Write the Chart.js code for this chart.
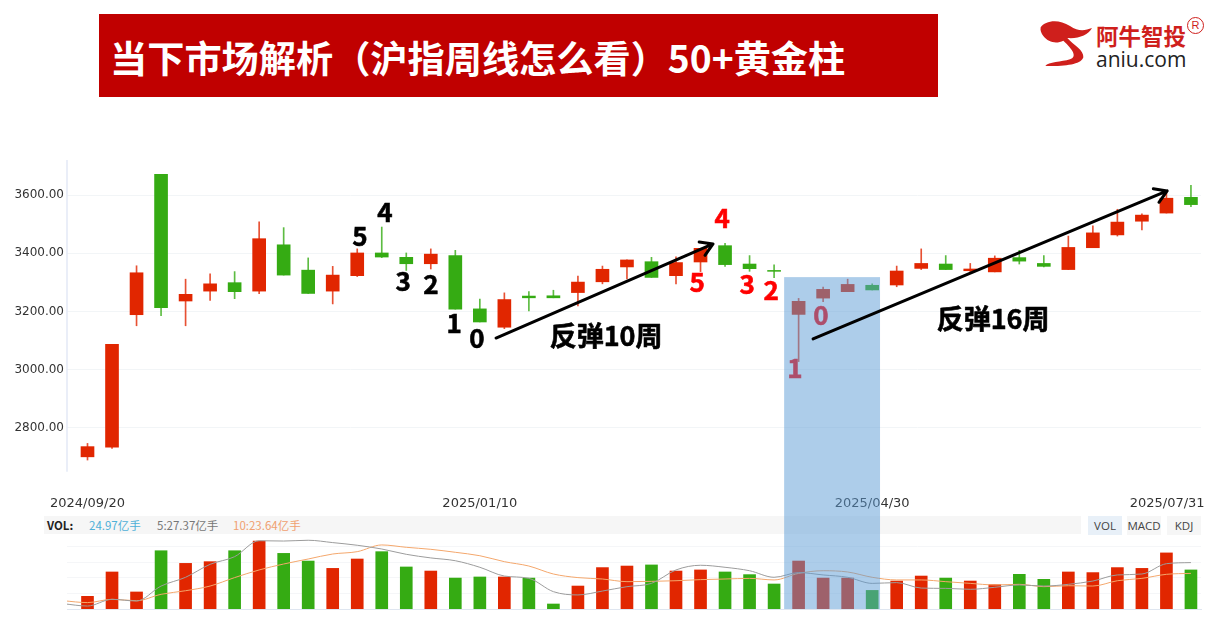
<!DOCTYPE html>
<html lang="zh">
<head>
<meta charset="utf-8">
<title>沪指周线</title>
<script src="https://cdn.jsdelivr.net/npm/chart.js@4"></script>
<style>
  html, body { margin: 0; padding: 0; background: #fff; overflow: hidden; }
  #page { position: relative; width: 1231px; height: 621px; font-family: "Noto Sans CJK SC", "Noto Sans", sans-serif; }
  #grafico { position: absolute; left: 0; top: 0; z-index: 2; }
  #titulo {
    position: absolute; left: 99px; top: 14px; width: 839px; height: 83px; background: #c00000;
    color: #fff; font-weight: 700; font-size: 37.2px; line-height: 86px; padding-left: 11px; box-sizing: border-box; white-space: nowrap;
  }
  #logo { position: absolute; left: 1020px; top: 0; }
  .logoCn { position: absolute; left: 1096px; top: 18px; font-size: 22.5px; line-height: 34px; color: #cf1f1c; font-weight: 700; white-space: nowrap; }
  .logoEn { position: absolute; left: 1096px; top: 45px; font-size: 21px; line-height: 28px; color: #222; white-space: nowrap; font-family: "Open Sans", sans-serif; }
  .logoR { position: absolute; left: 1187px; top: 17px; width: 15px; height: 15px; border: 1px solid #cf1f1c; border-radius: 50%; color: #cf1f1c; font-size: 11px; line-height: 15px; text-align: center; font-family: "Liberation Sans", sans-serif; }
  #faixa { position: absolute; left: 44px; top: 516px; width: 1037px; height: 18px; background: #f6f6f6; }
  .leg { position: absolute; top: 516px; font-size: 11.5px; line-height: 18px; white-space: nowrap; }
  .btn { position: absolute; top: 516px; width: 34px; height: 19px; background: #f6f6f6; font-size: 11.5px; line-height: 19px; text-align: center; color: #444; font-family: "Open Sans", sans-serif; }
</style>
</head>
<body>
<div id="page">
  <div id="titulo">当下市场解析（沪指周线怎么看）50+黄金柱</div>

  <svg id="logo" width="211" height="90" viewBox="0 0 633 270">
    <path fill="#cf1f1c" d="M62 82 C75 62 115 55 150 78 C175 95 195 92 216 84 C205 105 175 117 142 114 C160 135 192 150 190 172 C185 192 140 200 76 198 C85 186 125 186 150 178 C172 170 160 150 130 122 C110 132 85 128 70 108 C64 100 60 92 62 82 Z"/>
  </svg>
  <div class="logoCn">阿牛智投</div>
  <div class="logoEn">aniu.com</div>
  <div class="logoR">R</div>

  <div id="faixa"></div>
  <div class="leg" style="left:47px;color:#222;font-weight:700;">VOL:</div>
  <div class="leg" style="left:89px;color:#4fb0d8;">24.97亿手</div>
  <div class="leg" style="left:157px;color:#777;">5:27.37亿手</div>
  <div class="leg" style="left:233px;color:#f0a070;">10:23.64亿手</div>
  <div class="btn" style="left:1088px;background:#e8f0f8;">VOL</div>
  <div class="btn" style="left:1127px;">MACD</div>
  <div class="btn" style="left:1167px;">KDJ</div>

  <canvas id="grafico" width="1231" height="621"></canvas>
</div>

<script>
// Candles, one per week
const opens  = [2701,2734,3189,3671,3236,3270,3299,3270,3429,3342,3270,3323,3401,3386,3364,3392,3209,3146,3253,3254,3265,3302,3353,3371,3323,3370,3426,3363,3341,3190,3246,3268,3290,3291,3348,3363,3340,3336,3385,3365,3344,3419,3463,3510,3538,3592];
const closes = [2736,3087,3333,3213,3259,3295,3268,3450,3325,3262,3325,3401,3387,3364,3397,3208,3164,3241,3247,3247,3301,3345,3377,3317,3368,3417,3361,3347,3338,3235,3276,3293,3274,3339,3365,3344,3346,3383,3373,3355,3420,3470,3507,3531,3589,3567];
const highs  = [2747,3087,3357,3671,3311,3329,3337,3508,3488,3384,3355,3415,3490,3401,3415,3410,3243,3264,3268,3273,3322,3356,3377,3386,3388,3417,3434,3392,3360,3245,3284,3311,3295,3356,3415,3392,3365,3391,3410,3392,3459,3494,3551,3535,3610,3633];
const lows   = [2690,2730,3151,3186,3151,3238,3244,3261,3325,3262,3226,3320,3385,3341,3346,3208,3164,3141,3202,3247,3219,3295,3312,3317,3295,3337,3355,3338,3316,3028,3234,3268,3274,3285,3344,3344,3331,3336,3363,3353,3344,3419,3459,3480,3538,3560];

// Volume, 亿手
const volumes = [8.1,23.7,10.9,37.3,29.2,30.3,37.3,43.5,35.6,30.7,26.0,32.0,36.7,26.9,24.3,19.8,20.5,20.5,19.8,3.2,14.7,26.5,27.5,28.2,24.3,25.0,23.7,22.0,16.0,30.7,19.8,19.8,11.9,17.9,21.1,19.8,17.9,15.6,22.2,19.0,23.7,23.3,26.5,26.0,35.9,25.0];

// Moving averages start one week before the first candle
const ma5  = [3.4,1.9,6.2,5.1,14.7,20.3,28.6,33.5,43.7,43.5,44.0,42.5,40.8,38.4,35.0,32.7,30.9,26.7,21.1,19.6,11.1,9.0,11.5,14.3,16.4,25.0,28.0,26.7,24.5,20.3,23.3,21.8,20.3,16.4,16.9,13.4,13.2,12.6,13.9,15.4,14.7,15.8,17.9,21.8,22.4,29.0,29.7];
const ma10 = [5.3,4.1,6.2,5.3,9.4,11.7,14.7,20.1,25.0,28.8,32.0,35.2,36.7,41.0,39.5,38.2,36.3,34.1,30.3,27.5,22.4,20.1,19.2,17.5,17.7,18.1,18.8,19.2,19.6,18.6,22.8,24.5,23.7,20.3,18.6,18.6,17.5,16.4,15.4,15.8,14.3,14.9,14.7,18.1,19.6,22.2,22.8];

// Axis ticks
const priceTicks = [2800,3000,3200,3400,3600];
const volumeTicks = [10,20,30,40];
const dateTicks = [0,16,32,44.03];
const dateLabels = ["2024/09/20","2025/01/10","2025/04/30","2025/07/31"];

// Notes written on the chart, placed by week and price
const blackNotes = ["5","4","3","2","1","0"];
const blackWeeks = [11.11,12.13,12.87,14.01,14.95,15.88];
const blackPrices = [3459,3542,3305,3294,3160,3109];
const redNotes = ["5","4","3","2","1","0"];
const redWeeks = [24.86,25.88,26.9,27.88,28.85,29.91];
const redPrices = [3301,3521,3294,3274,3006,3188];
const reboundNotes = ["反弹10周","反弹16周"];
const reboundWeeks = [21.15,36.93];
const reboundPrices = [3116,3174];
const arrowWeeks = [[16.66,25.51],[29.59,44.03]];
const arrowPrices = [[3109,3432],[3106,3614]];
const highlightWeeks = [28.41,32.32];
const highlightTop = 3318;

const RED = "#e12600";
const GREEN = "#35ab13";
const candleColor = i => closes[i] >= opens[i] ? RED : GREEN;
const wickColor = i => closes[i] >= opens[i] ? "rgba(225,38,0,0.8)" : "rgba(53,171,19,0.8)";

const weeks = closes.map((_, i) => i);
const maWeeks = ma5.map((_, i) => i - 1);

function drawNote(ctx, text, x, y, color) {
  ctx.fillStyle = color;
  ctx.strokeStyle = color;
  ctx.lineWidth = 0.6;
  ctx.fillText(text, x, y);
  ctx.strokeText(text, x, y);
}

function drawArrow(ctx, x0, y0, x1, y1) {
  const ang = Math.atan2(y1 - y0, x1 - x0);
  const size = 14;
  ctx.strokeStyle = "#000";
  ctx.lineWidth = 3;
  ctx.lineCap = "round";
  ctx.lineJoin = "round";
  ctx.beginPath();
  ctx.moveTo(x0, y0);
  ctx.lineTo(x1, y1);
  ctx.moveTo(x1 - size * Math.cos(ang - 0.55), y1 - size * Math.sin(ang - 0.55));
  ctx.lineTo(x1, y1);
  ctx.lineTo(x1 - size * Math.cos(ang + 0.55), y1 - size * Math.sin(ang + 0.55));
  ctx.stroke();
}

const notasPlugin = {
  id: "notas",
  beforeDatasetsDraw(chart) {
    // price axis line only runs along the candle panel
    const { ctx, scales: { x, y } } = chart;
    ctx.save();
    ctx.strokeStyle = "#e3e9f6";
    ctx.lineWidth = 1.5;
    ctx.beginPath();
    ctx.moveTo(x.left, y.top);
    ctx.lineTo(x.left, y.getPixelForValue(2650));
    ctx.stroke();
    ctx.restore();
  },
  afterDatasetsDraw(chart) {
    const { ctx, chartArea, scales: { x, y } } = chart;
    ctx.save();
    ctx.textAlign = "center";
    ctx.textBaseline = "middle";
    ctx.font = '700 26px "Noto Sans CJK SC"';

    blackNotes.forEach((t, i) => drawNote(ctx, t, x.getPixelForValue(blackWeeks[i]), y.getPixelForValue(blackPrices[i]), "#000"));
    redNotes.forEach((t, i) => drawNote(ctx, t, x.getPixelForValue(redWeeks[i]), y.getPixelForValue(redPrices[i]), "#ff0000"));

    // Fica por cima dos candles e do volume
    const left = x.getPixelForValue(highlightWeeks[0]);
    const right = x.getPixelForValue(highlightWeeks[1]);
    const top = y.getPixelForValue(highlightTop);
    ctx.fillStyle = "rgba(91,155,213,0.5)";
    ctx.fillRect(left, top, right - left, chartArea.bottom - top);

    arrowWeeks.forEach((w, i) => {
      drawArrow(ctx, x.getPixelForValue(w[0]), y.getPixelForValue(arrowPrices[i][0]),
        x.getPixelForValue(w[1]), y.getPixelForValue(arrowPrices[i][1]));
    });

    ctx.font = '700 27px "Noto Sans CJK SC"';
    reboundNotes.forEach((t, i) => drawNote(ctx, t, x.getPixelForValue(reboundWeeks[i]), y.getPixelForValue(reboundPrices[i]), "#000"));
    ctx.restore();
  }
};

new Chart(document.getElementById("grafico").getContext("2d"), {
  type: "bar",
  data: {
    datasets: [
      {
        label: "ma5", type: "line", yAxisID: "yVol", order: 1,
        data: maWeeks.map((w, i) => ({ x: w, y: ma5[i] })),
        borderColor: "#9c9c9c", borderWidth: 1, pointRadius: 0, cubicInterpolationMode: "monotone"
      },
      {
        label: "ma10", type: "line", yAxisID: "yVol", order: 1,
        data: maWeeks.map((w, i) => ({ x: w, y: ma10[i] })),
        borderColor: "#f4a76c", borderWidth: 1, pointRadius: 0, cubicInterpolationMode: "monotone"
      },
      {
        label: "volume", yAxisID: "yVol", order: 2, grouped: false, barThickness: 12,
        data: weeks.map(i => ({ x: i, y: volumes[i] })),
        backgroundColor: ctx => candleColor(ctx.dataIndex)
      },
      {
        label: "corpo", yAxisID: "y", order: 3, grouped: false, barThickness: 13,
        data: weeks.map(i => ({ x: i, y: [opens[i], closes[i]] })),
        backgroundColor: ctx => candleColor(ctx.dataIndex)
      },
      {
        label: "pavio", yAxisID: "y", order: 4, grouped: false, barThickness: 1,
        data: weeks.map(i => ({ x: i, y: [lows[i], highs[i]] })),
        backgroundColor: ctx => wickColor(ctx.dataIndex)
      }
    ]
  },
  options: {
    responsive: false,
    animation: false,
    layout: { padding: { top: 160, right: 30, bottom: 12, left: 0 } },
    plugins: { legend: { display: false }, tooltip: { enabled: false } },
    scales: {
      x: {
        type: "linear", offset: false, min: -0.836, max: 45.41,
        grid: { display: false, offset: false },
        border: { color: "#dfe6f0" },
        afterBuildTicks: s => { s.ticks = dateTicks.map(v => ({ value: v })); },
        afterFit: s => { s.height = 0; s.paddingLeft = 0; s.paddingRight = 0; },
        // mirror: sem isso os rotulos sao cortados, ficam acima do eixo
        ticks: {
          autoSkip: false, maxRotation: 0, mirror: true, padding: 98, color: "#333",
          font: { family: "DejaVu Sans", size: 13 },
          callback: v => dateLabels[dateTicks.indexOf(v)]
        }
      },
      y: {
        position: "left", min: 2178.5, max: 3720.2,
        afterFit: s => { s.width = 67; },
        afterBuildTicks: s => { s.ticks = priceTicks.map(v => ({ value: v })); },
        grid: { color: "#f2f5f7", drawTicks: false },
        border: { display: false },
        ticks: { padding: 3, color: "#333", font: { family: "DejaVu Sans", size: 12 }, callback: v => v.toFixed(2) }
      },
      yVol: {
        position: "right", min: 0, max: 287.4,
        afterFit: s => { s.width = 0; },
        afterBuildTicks: s => { s.ticks = volumeTicks.map(v => ({ value: v })); },
        grid: { color: "#f5f6f8", drawTicks: false },
        border: { display: false },
        ticks: { display: false }
      }
    }
  },
  plugins: [notasPlugin]
});
</script>
</body>
</html>
